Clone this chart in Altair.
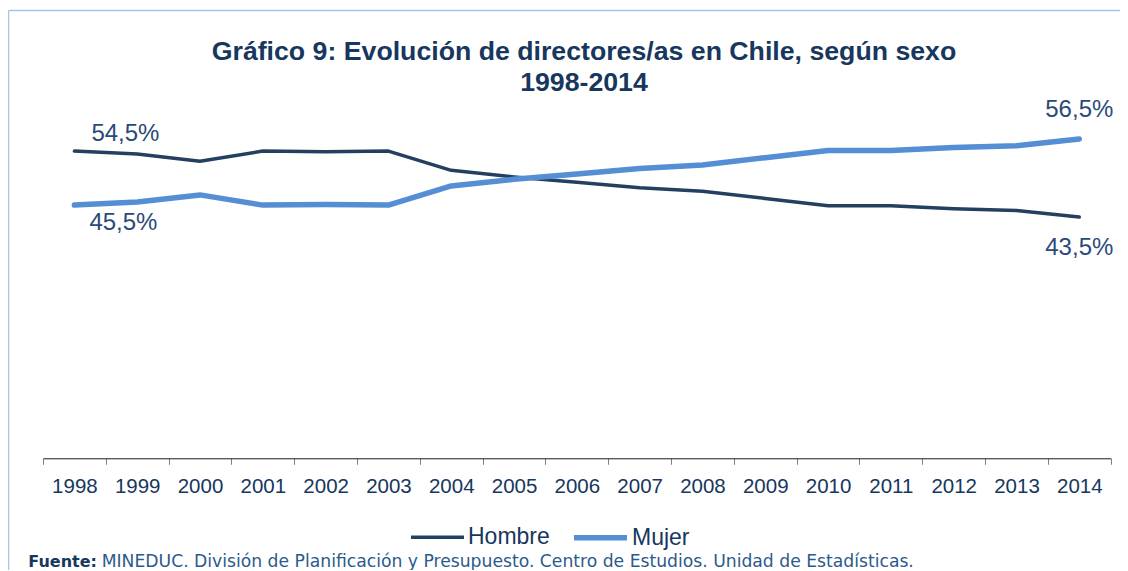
import altair as alt
import pandas as pd

years = [str(y) for y in range(1998, 2015)]
hombre = [54.5, 54.0, 52.8, 54.5, 54.4, 54.5, 51.3, 50.2, 49.3, 48.4, 47.8, 46.6, 45.4, 45.4, 44.9, 44.6, 43.5]
mujer = [45.5, 46.0, 47.2, 45.5, 45.6, 45.5, 48.7, 49.8, 50.7, 51.6, 52.2, 53.4, 54.6, 54.6, 55.1, 55.4, 56.5]
series = ["Hombre", "Mujer"]
colors = ["#243F60", "#558ED5"]
title_lines = ["Gráfico 9: Evolución de directores/as en Chile, según sexo", "1998-2014"]
source_bold = "Fuente:"
source_text = "MINEDUC. División de Planificación y Presupuesto. Centro de Estudios. Unidad de Estadísticas."

rows = []
for y, h, m in zip(years, hombre, mujer):
    rows.append({"year": y, "sexo": "Hombre", "value": h})
    rows.append({"year": y, "sexo": "Mujer", "value": m})
df = pd.DataFrame(rows)


def fmt(v):
    return f"{v:.1f}".replace(".", ",") + "%"


def lab(i, s, vals):
    return pd.DataFrame([{"year": years[i], "sexo": s, "value": vals[i], "label": fmt(vals[i])}])


W = 1067.7
H = 340.2
NAVY = "#17375E"
LABEL = "#2A4A78"

legend_opts = dict(
    title=None,
    orient="none",
    legendX=366,
    legendY=390,
    direction="horizontal",
    symbolType="stroke",
    symbolSize=2809,
    labelFont="Liberation Sans",
    labelFontSize=23,
    labelColor=NAVY,
    labelOffset=2,
    columnPadding=13,
    padding=0,
)

x_enc = alt.X(
    "year:O",
    sort=years,
    bandPosition=0.5,
    scale=alt.Scale(type="band", paddingInner=0, paddingOuter=0),
    axis=alt.Axis(
        title=None,
        labelAngle=0,
        tickBand="extent",
        labelFont="Liberation Sans",
        labelFontSize=20.5,
        labelColor=NAVY,
        labelPadding=12,
        tickSize=6,
        tickColor="#808080",
        domainColor="#1a1a1a",
        domainWidth=1,
        grid=False,
    ),
)
y_enc = alt.Y("value:Q", scale=alt.Scale(domain=[3.3, 60], nice=False, zero=False), axis=None)

lines = alt.Chart(df).mark_line(strokeCap="round", strokeJoin="round").encode(
    x=x_enc,
    y=y_enc,
    color=alt.Color("sexo:N", scale=alt.Scale(domain=series, range=colors), legend=alt.Legend(**legend_opts)),
    strokeWidth=alt.StrokeWidth(
        "sexo:N", scale=alt.Scale(domain=series, range=[3.5, 5.5]), legend=alt.Legend(**legend_opts)
    ),
    order=alt.Order("year:O"),
)


def text_layer(d, dx, dy):
    return alt.Chart(d).mark_text(
        font="Liberation Sans", fontSize=24, color=LABEL, dx=dx, dy=dy, baseline="middle", align="center"
    ).encode(x=alt.X("year:O", sort=years, bandPosition=0.5), y=alt.Y("value:Q"), text="label:N")


t1 = text_layer(lab(0, "Hombre", hombre), 51, -17)
t2 = text_layer(lab(0, "Mujer", mujer), 49, 17.5)
t3 = text_layer(lab(16, "Mujer", mujer), 0, -29)
t4 = text_layer(lab(16, "Hombre", hombre), 0, 31)

one = alt.Data(values=[{"k": 1}])
frame_v = alt.Chart(one).mark_rule(color="#A9C4E8", strokeWidth=1.5).encode(
    x=alt.value(-34.5), y=alt.value(-107.6), y2=alt.value(470)
)
frame_h = alt.Chart(one).mark_rule(color="#A9C4E8", strokeWidth=1.5).encode(
    x=alt.value(-34.5), x2=alt.value(1100), y=alt.value(-107.6)
)
title1 = alt.Chart(one).mark_text(
    font="Liberation Sans", fontSize=26.7, fontWeight="bold", color=NAVY, align="center", baseline="alphabetic"
).encode(x=alt.value(541), y=alt.value(-58.6), text=alt.value(title_lines[0]))
title2 = alt.Chart(one).mark_text(
    font="Liberation Sans", fontSize=26.7, fontWeight="bold", color=NAVY, align="center", baseline="alphabetic"
).encode(x=alt.value(541), y=alt.value(-27.6), text=alt.value(title_lines[1]))
foot1 = alt.Chart(one).mark_text(
    font="DejaVu Sans", fontSize=16, fontWeight="bold", color=NAVY, align="left", baseline="alphabetic"
).encode(x=alt.value(-14.7), y=alt.value(448.6), text=alt.value(source_bold))
foot2 = alt.Chart(one).mark_text(
    font="DejaVu Sans", fontSize=17.2, color="#2B5A8C", align="left", baseline="alphabetic"
).encode(x=alt.value(58.7), y=alt.value(448.6), text=alt.value(source_text))

chart = (
    alt.layer(frame_v, frame_h, lines, t1, t2, t3, t4, title1, title2, foot1, foot2)
    .properties(
        width=W,
        height=H,
        padding={"left": 35, "top": 110.1, "right": 9, "bottom": 112},
        autosize=alt.AutoSizeParams(type="none"),
    )
    .configure_view(strokeWidth=0)
)

chart.save("out.html", embed_options={"renderer": "svg", "actions": False})
